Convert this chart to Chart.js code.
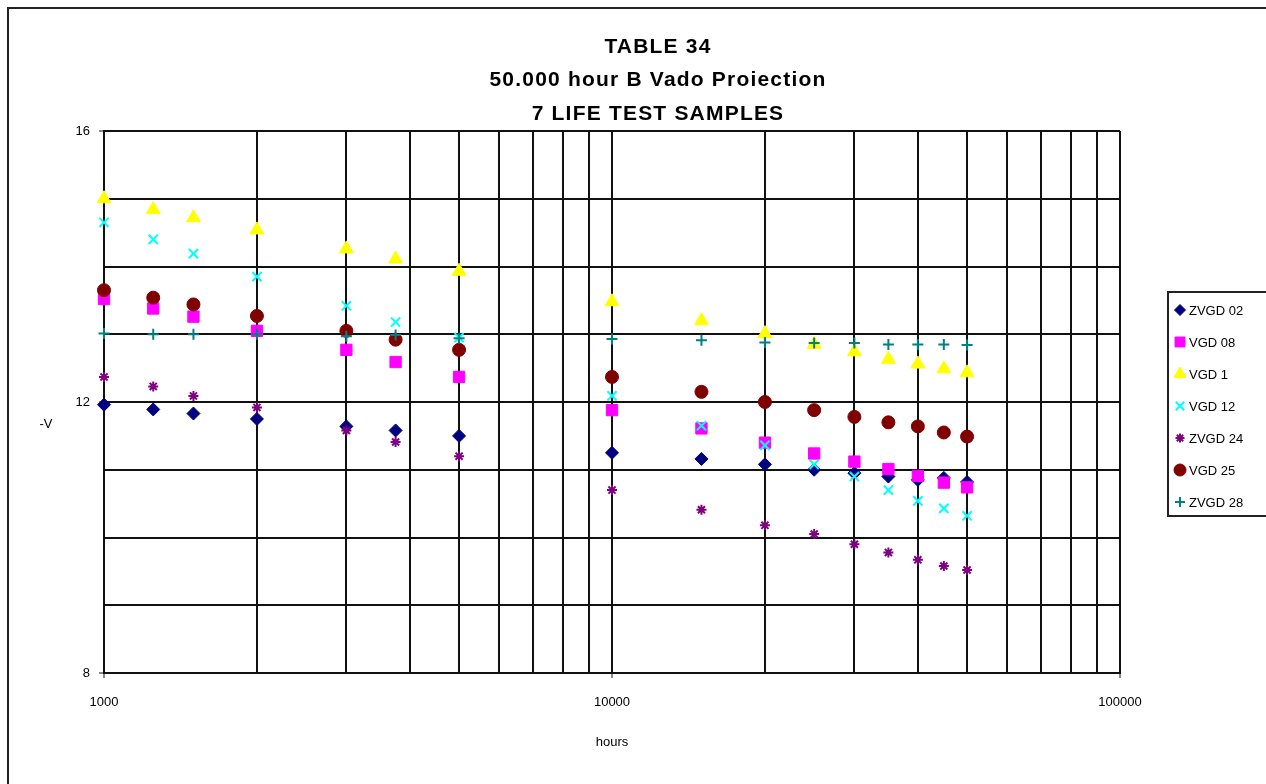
<!DOCTYPE html>
<html>
<head>
<meta charset="utf-8">
<script src="https://cdn.jsdelivr.net/npm/chart.js@4/dist/chart.umd.min.js"></script>
<style>
  html, body { margin: 0; padding: 0; background: #fff; }
  #wrap { width: 1266px; height: 784px; position: relative; }
</style>
</head>
<body>
<div id="wrap"><canvas id="c" width="1266" height="784"></canvas></div>
<script>
// Test hours at which each sample was measured
const hours = [1000, 1250, 1500, 2000, 3000, 3750, 5000, 10000, 15000, 20000, 25000, 30000, 35000, 40000, 45000, 50000];

// Measured -V per sample
const zvgd02 = [11.96, 11.89, 11.83, 11.75, 11.64, 11.58, 11.50, 11.25, 11.16, 11.08, 11.00, 10.95, 10.90, 10.85, 10.88, 10.82];
const vgd08  = [13.52, 13.38, 13.26, 13.05, 12.77, 12.59, 12.37, 11.88, 11.61, 11.40, 11.24, 11.12, 11.01, 10.91, 10.81, 10.74];
const vgd1   = [15.00, 14.84, 14.72, 14.54, 14.26, 14.11, 13.93, 13.48, 13.20, 13.01, 12.85, 12.74, 12.63, 12.56, 12.49, 12.43];
const vgd12  = [14.65, 14.40, 14.19, 13.85, 13.42, 13.18, 12.95, 12.09, 11.65, 11.36, 11.08, 10.90, 10.70, 10.54, 10.43, 10.32];
const zvgd24 = [12.37, 12.23, 12.09, 11.92, 11.58, 11.41, 11.20, 10.70, 10.41, 10.18, 10.05, 9.90, 9.78, 9.67, 9.58, 9.52];
const vgd25  = [13.65, 13.54, 13.44, 13.27, 13.05, 12.92, 12.77, 12.37, 12.15, 12.00, 11.88, 11.78, 11.70, 11.64, 11.55, 11.49];
const zvgd28 = [13.01, 13.00, 13.00, 13.00, 12.97, 12.99, 12.94, 12.93, 12.91, 12.88, 12.87, 12.87, 12.85, 12.85, 12.85, 12.84];

const seriesNames = ['ZVGD 02', 'VGD 08', 'VGD 1', 'VGD 12', 'ZVGD 24', 'VGD 25', 'ZVGD 28'];
const seriesValues = [zvgd02, vgd08, vgd1, vgd12, zvgd24, vgd25, zvgd28];

// Axis ticks
const xTicks = [1000, 2000, 3000, 4000, 5000, 6000, 7000, 8000, 9000,
                10000, 20000, 30000, 40000, 50000, 60000, 70000, 80000, 90000, 100000];
const xLabelled = [1000, 10000, 100000];
const yLabelled = [8, 12, 16];

const titleLines = ['TABLE 34', '50.000 hour B Vado Proiection', '7 LIFE TEST SAMPLES'];

const styles = [
  { color: '#000080', pointStyle: 'rectRot',  radius: 6.5, bw: 1, legendR: 5.5 },
  { color: '#ff00ff', pointStyle: 'rect',     radius: 8,   bw: 1, legendR: 7 },
  { color: '#ffff00', pointStyle: 'triangle', radius: 8,   bw: 1, legendR: 7 },
  { color: '#00ffff', pointStyle: 'crossRot', radius: 6.5, bw: 2, legendR: 6 },
  { color: '#800080', pointStyle: 'star',     radius: 5,   bw: 2, legendR: 4.5 },
  { color: '#800000', pointStyle: 'circle',   radius: 6.5, bw: 1, legendR: 6 },
  { color: '#008080', pointStyle: 'cross',    radius: 5.5, bw: 2, legendR: 5 }
];

const FONT = '"Liberation Sans", Arial, sans-serif';

const datasets = seriesNames.map((name, i) => ({
  label: name,
  data: hours.map((h, j) => ({ x: h, y: seriesValues[i][j] })),
  showLine: false,
  clip: false,
  pointStyle: styles[i].pointStyle,
  pointRadius: styles[i].radius,
  pointHoverRadius: styles[i].radius,
  pointBackgroundColor: styles[i].color,
  pointBorderColor: styles[i].color,
  pointBorderWidth: styles[i].bw,
  order: seriesNames.length - 1 - i
}));

// Outer frame, title, axis captions and the boxed legend
const decorations = {
  id: 'decorations',
  beforeDraw(chart) {
    const ctx = chart.ctx;
    ctx.save();
    ctx.fillStyle = '#fff';
    ctx.fillRect(0, 0, chart.width, chart.height);
    ctx.strokeStyle = '#222';
    ctx.lineWidth = 2;
    ctx.beginPath();
    ctx.moveTo(8, chart.height + 5);
    ctx.lineTo(8, 8);
    ctx.lineTo(chart.width + 5, 8);
    ctx.stroke();
    ctx.restore();
  },
  afterDraw(chart) {
    const ctx = chart.ctx;
    ctx.save();
    ctx.fillStyle = '#000';
    ctx.textAlign = 'center';
    ctx.textBaseline = 'middle';
    ctx.font = 'bold 21px ' + FONT;
    ctx.letterSpacing = '1.2px';
    const ty = [47, 80, 114];
    titleLines.forEach((t, i) => ctx.fillText(t, 658, ty[i]));
    ctx.letterSpacing = '0px';

    ctx.font = '13px ' + FONT;
    ctx.fillText('hours', 612, 742);
    ctx.fillText('-V', 46, 424);

    // legend box
    const lx = 1168, ly = 292, lh = 224;
    ctx.strokeStyle = '#222';
    ctx.lineWidth = 2;
    ctx.strokeRect(lx, ly, 140, lh);
    ctx.textAlign = 'left';
    ctx.font = '13px ' + FONT;
    seriesNames.forEach((name, i) => {
      const y = 310 + i * 32;
      const s = styles[i];
      ctx.fillStyle = s.color;
      ctx.strokeStyle = s.color;
      ctx.lineWidth = s.bw;
      Chart.helpers.drawPoint(ctx, { pointStyle: s.pointStyle, radius: s.legendR, rotation: 0, borderWidth: s.bw }, 1180, y);
      ctx.fillStyle = '#000';
      ctx.fillText(name, 1189, y + 1);
    });
    ctx.restore();
  }
};

new Chart(document.getElementById('c'), {
  type: 'scatter',
  data: { datasets },
  plugins: [decorations],
  options: {
    responsive: false,
    animation: false,
    events: [],
    layout: { padding: { left: 0, top: 131, right: 146, bottom: 0 } },
    plugins: { legend: { display: false }, title: { display: false }, tooltip: { enabled: false } },
    scales: {
      x: {
        type: 'logarithmic',
        min: 1000,
        max: 100000,
        afterBuildTicks(scale) { scale.ticks = xTicks.map(v => ({ value: v })); },
        afterFit(scale) { scale.height = 111; },
        border: { display: true, color: '#111', width: 2 },
        grid: {
          color: '#111',
          lineWidth: 2,
          tickLength: 5,
          tickColor: c => (c.tick && xLabelled.includes(c.tick.value)) ? '#111' : 'rgba(0,0,0,0)',
          tickWidth: 1
        },
        ticks: {
          autoSkip: false,
          maxRotation: 0,
          padding: 17,
          color: '#000',
          font: { family: FONT, size: 13 },
          callback: v => xLabelled.includes(v) ? String(v) : ''
        }
      },
      y: {
        type: 'linear',
        min: 8,
        max: 16,
        afterFit(scale) { scale.width = 104; },
        border: { display: true, color: '#111', width: 2 },
        grid: {
          color: '#111',
          lineWidth: 2,
          tickLength: 5,
          tickColor: c => (c.tick && yLabelled.includes(c.tick.value)) ? '#111' : 'rgba(0,0,0,0)',
          tickWidth: 1
        },
        ticks: {
          stepSize: 1,
          padding: 9,
          color: '#000',
          font: { family: FONT, size: 13 },
          callback: v => yLabelled.includes(v) ? String(v) : ''
        }
      }
    }
  }
});
</script>
</body>
</html>
